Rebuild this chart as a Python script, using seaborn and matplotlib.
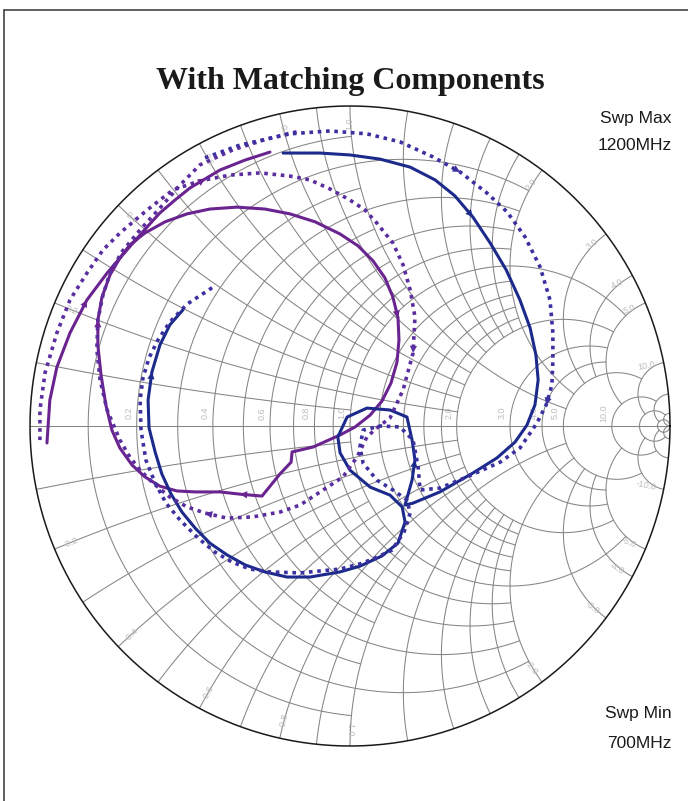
import numpy as np
import pandas as pd
import matplotlib
matplotlib.use("Agg")
import matplotlib.pyplot as plt
import seaborn as sns

# ---- data: reflection coefficient (real, imag) read off the chart ----
# purple solid trace
ps_re = [-0.947, -0.938, -0.916, -0.875, -0.822, -0.759, -0.719, -0.688, -0.641, -0.578,
         -0.509, -0.438, -0.353, -0.266, -0.188, -0.109, -0.031, 0.025, 0.072, 0.109,
         0.134, 0.15, 0.153, 0.147, 0.128, 0.1, 0.063, 0.016, -0.031, -0.116,
         -0.181, -0.184, -0.219, -0.275, -0.344, -0.406, -0.484, -0.541, -0.594, -0.641,
         -0.681, -0.719, -0.744, -0.763, -0.778, -0.788, -0.788, -0.775, -0.75, -0.719,
         -0.678, -0.634, -0.594, -0.547, -0.5, -0.453, -0.406, -0.328, -0.25]
ps_im = [-0.053, 0.081, 0.184, 0.291, 0.394, 0.478, 0.525, 0.566, 0.603, 0.638,
         0.663, 0.678, 0.684, 0.678, 0.663, 0.638, 0.6, 0.563, 0.516, 0.463,
         0.403, 0.338, 0.269, 0.2, 0.134, 0.078, 0.034, -0.003, -0.028, -0.066,
         -0.081, -0.113, -0.15, -0.219, -0.213, -0.206, -0.206, -0.203, -0.188, -0.159,
         -0.122, -0.069, -0.013, 0.066, 0.159, 0.253, 0.331, 0.403, 0.472, 0.525,
         0.572, 0.622, 0.666, 0.706, 0.744, 0.772, 0.8, 0.831, 0.856]

# blue solid trace
bs_re = [-0.209, -0.094, 0.0, 0.094, 0.188, 0.266, 0.328, 0.384, 0.438, 0.488,
         0.531, 0.563, 0.581, 0.588, 0.578, 0.553, 0.516, 0.459, 0.384, 0.281,
         0.197, 0.172, 0.194, 0.203, 0.194, 0.178, 0.125, 0.053, -0.009, -0.038,
         -0.031, 0.0, 0.063, 0.125, 0.163, 0.172, 0.15, 0.1, 0.031, -0.031,
         -0.125, -0.197, -0.266, -0.328, -0.384, -0.438, -0.484, -0.525, -0.559, -0.588,
         -0.609, -0.628, -0.631, -0.619, -0.594, -0.563, -0.522]
bs_im = [0.853, 0.853, 0.847, 0.834, 0.809, 0.769, 0.719, 0.653, 0.572, 0.488,
         0.394, 0.306, 0.222, 0.144, 0.066, 0.003, -0.05, -0.1, -0.147, -0.206,
         -0.241, -0.247, -0.169, -0.106, -0.044, 0.028, 0.05, 0.056, 0.028, -0.034,
         -0.084, -0.138, -0.191, -0.216, -0.253, -0.3, -0.366, -0.406, -0.438, -0.456,
         -0.472, -0.472, -0.456, -0.434, -0.403, -0.366, -0.319, -0.269, -0.213, -0.15,
         -0.081, -0.006, 0.081, 0.169, 0.253, 0.316, 0.363]

# purple dotted trace
pd_re = [-0.969, -0.969, -0.953, -0.916, -0.875, -0.822, -0.772, -0.719, -0.634, -0.553,
         -0.469, -0.375, -0.281, -0.188, -0.125, -0.063, 0.0, 0.047, 0.084, 0.134,
         0.166, 0.188, 0.203, 0.197, 0.166, 0.125, 0.084, 0.053, 0.022, -0.022,
         -0.084, -0.156, -0.219, -0.303, -0.384, -0.453, -0.509, -0.563, -0.616, -0.656,
         -0.688, -0.719, -0.759, -0.781, -0.791, -0.788, -0.772, -0.75, -0.713, -0.656,
         -0.594, -0.531, -0.469, -0.366, -0.259, -0.156]
pd_im = [-0.044, 0.05, 0.166, 0.291, 0.394, 0.478, 0.55, 0.603, 0.675, 0.738,
         0.766, 0.784, 0.791, 0.781, 0.769, 0.741, 0.706, 0.675, 0.634, 0.572,
         0.503, 0.425, 0.341, 0.228, 0.113, 0.025, -0.006, -0.034, -0.097, -0.159,
         -0.2, -0.247, -0.269, -0.284, -0.288, -0.272, -0.253, -0.222, -0.178, -0.138,
         -0.097, -0.044, 0.05, 0.144, 0.238, 0.331, 0.409, 0.478, 0.544, 0.613,
         0.681, 0.753, 0.816, 0.863, 0.897, 0.922]

# blue dotted trace
bd_re = [-0.453, -0.344, -0.188, -0.063, 0.053, 0.156, 0.259, 0.344, 0.428, 0.491,
         0.547, 0.594, 0.625, 0.634, 0.634, 0.631, 0.613, 0.584, 0.531, 0.469,
         0.366, 0.281, 0.219, 0.213, 0.197, 0.156, 0.094, 0.041, 0.031, 0.041,
         0.084, 0.134, 0.178, 0.188, 0.169, 0.131, 0.078, 0.031, -0.031, -0.156,
         -0.25, -0.313, -0.369, -0.422, -0.475, -0.531, -0.575, -0.609, -0.638, -0.653,
         -0.656, -0.647, -0.628, -0.6, -0.563, -0.509, -0.428]
bd_im = [0.838, 0.878, 0.913, 0.922, 0.913, 0.888, 0.841, 0.794, 0.728, 0.669,
         0.591, 0.497, 0.394, 0.291, 0.206, 0.128, 0.066, 0.009, -0.069, -0.113,
         -0.159, -0.194, -0.2, -0.128, -0.044, -0.003, 0.0, -0.013, -0.066, -0.116,
         -0.169, -0.2, -0.231, -0.272, -0.331, -0.388, -0.413, -0.431, -0.447, -0.459,
         -0.456, -0.447, -0.425, -0.394, -0.35, -0.294, -0.241, -0.178, -0.106, -0.013,
         0.081, 0.15, 0.213, 0.269, 0.325, 0.381, 0.434]

# chart grid values: (value, extent of the other coordinate)
r_grid = [(0.1, 1), (0.2, 2), (0.3, 1), (0.4, 2), (0.5, 1), (0.6, 2), (0.7, 1), (0.8, 2),
          (0.9, 1), (1.0, 5), (1.2, 2), (1.4, 2), (1.6, 2), (1.8, 2), (2.0, 5), (3.0, 5),
          (4.0, 5), (5.0, 10), (10.0, 20), (20.0, 50), (50.0, None)]
x_grid = r_grid
r_labels = [0.2, 0.4, 0.6, 0.8, 1.0, 2.0, 3.0, 4.0, 5.0, 10.0]
x_labels = [0.2, 0.4, 0.6, 0.8, 1.0, 2.0, 3.0, 4.0, 5.0, 10.0]

title = "With Matching Components"
sweep_max = ["Swp Max", "1200MHz"]
sweep_min = ["Swp Min", "700MHz"]


def gam(z):
    return (z - 1) / (z + 1)


def span(limit, n=300):
    top = np.pi / 2 * 0.9999 if limit is None else np.arctan(limit)
    return np.tan(np.linspace(0, top, n))


sns.set_theme(style="white")
plt.rcParams["font.family"] = ["Liberation Sans", "DejaVu Sans"]

fig = plt.figure(figsize=(6.88, 8.01), dpi=100)
# axes sized so the unit circle is 320 px in both directions
ax = fig.add_axes([14 / 688, 39 / 801, 672 / 688, 672 / 801])
ax.set_xlim(-1.05, 1.05)
ax.set_ylim(-1.05, 1.05)
ax.axis("off")

grid_kw = dict(color="#858585", lw=0.75, zorder=1)
for r, xm in r_grid:
    xs = span(xm)
    xs = np.concatenate([-xs[::-1], xs[1:]])
    g = gam(r + 1j * xs)
    ax.plot(g.real, g.imag, **grid_kw)
for x, rm in x_grid:
    g = gam(span(rm) + 1j * x)
    ax.plot(g.real, g.imag, **grid_kw)
    ax.plot(g.real, -g.imag, **grid_kw)
ax.plot([-1, 1], [0, 0], **grid_kw)
t = np.linspace(0, 2 * np.pi, 600)
ax.plot(np.cos(t), np.sin(t), color="#1a1a1a", lw=1.1, zorder=2)

lab_kw = dict(color="#bcbcbc", fontsize=6.5, ha="center", va="center", zorder=1)
for r in r_labels:
    g = gam(r).real
    ax.text(g - 0.025, 0.04, f"{r:.1f}", rotation=90, **lab_kw)
for x in x_labels:
    for s in (1, -1):
        g = gam(1j * x * s) * 0.945
        ang = np.degrees(np.angle(g))
        rot = ang if -90 <= ang <= 90 else ang + 180
        ax.text(g.real, g.imag, f"{s * x:.1f}", rotation=rot, **lab_kw)

traces = [
    (ps_re, ps_im, "#6a2490", "-", [3, 20, 33, 45, 54]),
    (bs_re, bs_im, "#1c2a8c", "-", [6, 22, 52]),
    (pd_re, pd_im, "#5b2d9e", (0, (1, 1.3)), [22, 34]),
    (bd_re, bd_im, "#3a30a0", (0, (1, 1.3)), [6, 15]),
]
for re, im, col, ls, arrows in traces:
    df = pd.DataFrame({"re": re, "im": im})
    lw = 2.2 if ls == "-" else 2.6
    sns.lineplot(data=df, x="re", y="im", sort=False, estimator=None, ax=ax,
                 color=col, lw=lw, linestyle=ls, zorder=3)
    for i in arrows:
        ax.annotate("", xy=(re[i + 1], im[i + 1]), xytext=(re[i], im[i]),
                    arrowprops=dict(arrowstyle="-|>", color=col, lw=0,
                                    mutation_scale=13, shrinkA=0, shrinkB=0),
                    zorder=4)
ax.set_xlabel("")
ax.set_ylabel("")

fig.text(350 / 688, 1 - 81 / 801, title, ha="center", va="center",
         fontsize=23, fontweight="bold", family="Liberation Serif", color="#1a1a1a")
txt_kw = dict(ha="right", va="baseline", fontsize=12.5, color="#1a1a1a")
fig.text(672 / 688, 1 - 123 / 801, sweep_max[0], **txt_kw)
fig.text(672 / 688, 1 - 150 / 801, sweep_max[1], **txt_kw)
fig.text(672 / 688, 1 - 718 / 801, sweep_min[0], **txt_kw)
fig.text(672 / 688, 1 - 748 / 801, sweep_min[1], **txt_kw)

# page frame (top and left edges visible)
fig.add_artist(plt.Line2D([4 / 688, 1], [1 - 10 / 801] * 2, color="#444444", lw=1.2))
fig.add_artist(plt.Line2D([4 / 688] * 2, [0, 1 - 10 / 801], color="#444444", lw=1.2))

fig.savefig("out.png", dpi=100)
